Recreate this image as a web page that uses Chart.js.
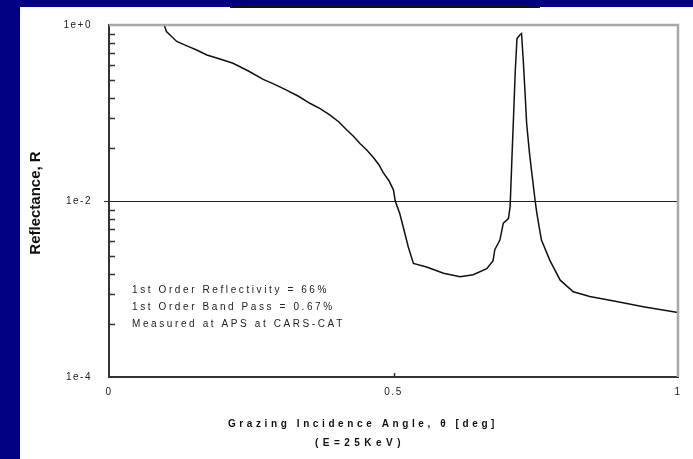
<!DOCTYPE html>
<html>
<head>
<meta charset="utf-8">
<script src="https://cdn.jsdelivr.net/npm/chart.js@4"></script>
<style>
  html, body { margin: 0; padding: 0; }
  body { width: 693px; height: 459px; background: #000080; position: relative; overflow: hidden; }
  #panel { position: absolute; left: 20px; top: 7px; right: 0; bottom: 0; background: #fff; }
  #bar { position: absolute; left: 230px; top: 6px; width: 310px; height: 2px; background: #111; }
  #wrap { position: absolute; left: 0; top: 0; width: 693px; height: 459px; }
</style>
</head>
<body>
<div id="panel"></div>
<div id="bar"></div>
<div id="wrap"><canvas id="reflChart" width="693" height="459"></canvas></div>
<script>
// grazing angle (deg) and measured reflectance
const theta = [0.097, 0.101, 0.119, 0.137, 0.154, 0.172, 0.195, 0.218, 0.245, 0.271,
    0.292, 0.312, 0.333, 0.353, 0.371, 0.388, 0.404, 0.418, 0.430, 0.441,
    0.453, 0.465, 0.474, 0.482, 0.492, 0.500, 0.503, 0.511, 0.517, 0.526,
    0.535, 0.558, 0.588, 0.617, 0.640, 0.664, 0.675, 0.678, 0.687, 0.693,
    0.702, 0.705, 0.708, 0.711, 0.714, 0.717, 0.722, 0.725, 0.728, 0.731,
    0.734, 0.739, 0.743, 0.749, 0.752, 0.760, 0.775, 0.793, 0.816, 0.845,
    0.892, 0.939, 1.0];
const reflectance = [1.0, 0.84, 0.65, 0.58, 0.52, 0.456, 0.41, 0.367, 0.30, 0.241,
    0.21, 0.182, 0.155, 0.129, 0.112, 0.095, 0.079, 0.064, 0.054, 0.045,
    0.038, 0.031, 0.026, 0.021, 0.017, 0.0133, 0.01, 0.0072, 0.0051, 0.0030,
    0.00195, 0.00178, 0.00151, 0.00138, 0.00145, 0.0017, 0.0021, 0.0028, 0.0036, 0.0056,
    0.0063, 0.0087, 0.029, 0.091, 0.30, 0.70, 0.77, 0.80, 0.40, 0.18,
    0.076, 0.035, 0.021, 0.01, 0.0072, 0.0036, 0.0021, 0.00126, 0.00093, 0.00082,
    0.00072, 0.00063, 0.00054];

const xTicks = [0, 0.5, 1];
const yTicks = [1e-4, 1e-2, 1];
const yTickLabels = ['1e-4', '1e-2', '1e+0'];
// minor tick marks inside the left axis (fractions of each 2-decade block)
const minorFractions = [0.8, 0.63, 0.48, 0.35, 0.24, 0.15, 0.088, 0.04];

const notes = [
    '1st Order Reflectivity = 66%',
    '1st Order Band Pass = 0.67%',
    'Measured at APS at CARS-CAT'
];

const points = theta.map((t, i) => ({ x: t, y: reflectance[i] }));

const decorPlugin = {
    id: 'decor',
    beforeDraw(chart) {
        chart.ctx.letterSpacing = '1.5px';
    },
    afterDraw(chart) {
        const ctx = chart.ctx;
        const a = chart.chartArea;
        const xs = chart.scales.x, ys = chart.scales.y;
        ctx.save();
        // light frame on top / right
        ctx.strokeStyle = '#a8a8a8';
        ctx.lineWidth = 2.5;
        ctx.beginPath();
        ctx.moveTo(a.left, a.top);
        ctx.lineTo(a.right, a.top);
        ctx.lineTo(a.right, a.bottom);
        ctx.stroke();

        // inward minor ticks on y axis
        ctx.strokeStyle = '#333';
        ctx.lineWidth = 1.5;
        [1, 1e-2].forEach(top => {
            minorFractions.forEach(f => {
                const py = Math.round(ys.getPixelForValue(top * f)) + 0.5;
                ctx.beginPath();
                ctx.moveTo(a.left, py);
                ctx.lineTo(a.left + 6, py);
                ctx.stroke();
            });
        });
        // tick at 0.5 on x axis
        const px = Math.round(xs.getPixelForValue(0.5)) + 0.5;
        ctx.beginPath();
        ctx.moveTo(px, a.bottom);
        ctx.lineTo(px, a.bottom - 4);
        ctx.stroke();
        // 1e-2 tick outside
        const p2 = Math.round(ys.getPixelForValue(1e-2)) + 0.5;
        ctx.lineWidth = 1;
        ctx.beginPath();
        ctx.moveTo(a.left - 5, p2);
        ctx.lineTo(a.left, p2);
        ctx.stroke();

        // notes
        ctx.fillStyle = '#222';
        ctx.font = '10px "Liberation Sans", Arial, sans-serif';
        ctx.letterSpacing = '2.6px';
        ctx.textAlign = 'left';
        ctx.textBaseline = 'middle';
        notes.forEach((n, i) => ctx.fillText(n, 132, 290 + i * 17));

        // x axis title
        ctx.fillStyle = '#111';
        ctx.font = 'bold 10px "Liberation Sans", Arial, sans-serif';
        ctx.letterSpacing = '3.6px';
        ctx.textAlign = 'center';
        ctx.fillText('Grazing Incidence Angle, \u03b8 [deg]', 363, 424);
        ctx.letterSpacing = '4.5px';
        ctx.fillText('(E=25KeV)', 360, 443);

        // y axis title
        ctx.letterSpacing = '0px';
        ctx.translate(36, 203);
        ctx.rotate(-Math.PI / 2);
        ctx.font = 'bold 15px "Liberation Sans Narrow", "Liberation Sans", Arial, sans-serif';
        ctx.fillText('Reflectance, R', 0, 0);
        ctx.restore();
    }
};

const chart = new Chart(document.getElementById('reflChart').getContext('2d'), {
    type: 'line',
    data: {
        datasets: [{
            data: points,
            borderColor: '#111',
            borderWidth: 1.5,
            pointRadius: 0,
            tension: 0,
            fill: false
        }]
    },
    options: {
        responsive: false,
        animation: false,
        events: [],
        layout: { padding: { left: 0, top: 25, right: 15, bottom: 0 } },
        plugins: { legend: { display: false }, tooltip: { enabled: false } },
        scales: {
            x: {
                type: 'linear',
                min: 0,
                max: 1,
                afterBuildTicks: s => { s.ticks = xTicks.map(v => ({ value: v })); },
                afterFit: s => { s.height = 82; },
                ticks: {
                    color: '#222',
                    font: { size: 10, family: '"Liberation Sans", Arial, sans-serif' },
                    padding: 9,
                    maxRotation: 0,
                    callback: v => String(v)
                },
                grid: { display: true, drawOnChartArea: false, drawTicks: false },
                border: { display: true, color: '#333', width: 2 }
            },
            y: {
                type: 'logarithmic',
                min: 1e-4,
                max: 1,
                afterBuildTicks: s => { s.ticks = yTicks.map(v => ({ value: v })); },
                afterFit: s => { s.width = 109; },
                ticks: {
                    color: '#222',
                    font: { size: 10, family: '"Liberation Sans", Arial, sans-serif' },
                    padding: 17,
                    callback: v => yTickLabels[yTicks.indexOf(v)]
                },
                grid: {
                    drawTicks: false,
                    color: c => (c.tick && c.tick.value === 1e-2) ? '#222' : 'rgba(0,0,0,0)',
                    lineWidth: 1
                },
                border: { display: true, color: '#333', width: 2 }
            }
        }
    },
    plugins: [decorPlugin]
});
</script>
</body>
</html>
